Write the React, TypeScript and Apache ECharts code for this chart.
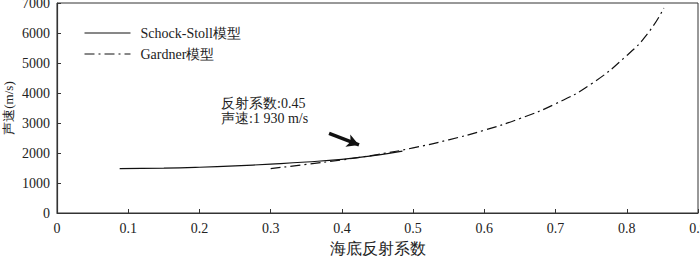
import React, { useEffect, useRef } from "react";
import * as echarts from "echarts";

const legendNames = ["Schock-Stoll模型", "Gardner模型"];
const ssX = [0.088, 0.15, 0.2, 0.25, 0.3, 0.35, 0.4, 0.45, 0.485];
const ssY = [1478, 1495, 1525, 1570, 1630, 1700, 1790, 1930, 2060];
const gX = [0.3, 0.35, 0.4, 0.45, 0.5, 0.55, 0.6, 0.65, 0.7, 0.75, 0.8, 0.83, 0.852];
const gY = [1480, 1620, 1770, 1950, 2170, 2440, 2760, 3150, 3640, 4300, 5250, 6000, 6830];
const arrowFrom = [0.382, 2657];
const arrowTo = [0.424, 2267];
const noteLines = ["反射系数:0.45", "声速:1 930 m/s"];
const xName = "海底反射系数";
const yName = "声速(m/s)";

const FONT = "Liberation Serif";

export default function App() {
  const ref = useRef<HTMLDivElement>(null);
  useEffect(() => {
    if (!ref.current) return;
    const chart = echarts.init(ref.current, null, { renderer: "svg" });
    const axisColor = "#333";
    chart.setOption({
      animation: false,
      backgroundColor: "#fff",
      textStyle: { fontFamily: FONT },
      grid: {
        left: 57,
        right: 2,
        top: 3,
        bottom: 48,
        outerBoundsMode: "none",
        containLabel: false,
        show: true,
        borderColor: axisColor,
        borderWidth: 1,
      },
      legend: {
        orient: "vertical",
        left: 79,
        top: 21,
        itemWidth: 46,
        itemHeight: 14,
        itemGap: 7,
        data: legendNames,
        itemStyle: { opacity: 0 },
        lineStyle: { width: 1 },
        textStyle: {
          fontFamily: FONT,
          fontSize: 14,
          color: "#222",
          padding: [0, 0, 0, 5],
        },
      },
      xAxis: {
        type: "value",
        min: 0,
        max: 0.9,
        interval: 0.1,
        name: xName,
        nameLocation: "middle",
        nameGap: 27,
        nameMoveOverlap: false,
        nameTextStyle: { fontFamily: FONT, fontSize: 16, color: "#222" },
        axisLine: { show: true, lineStyle: { color: axisColor, width: 1.2 } },
        axisTick: { show: true, inside: true, length: 4, lineStyle: { color: axisColor } },
        axisLabel: {
          margin: 8,
          fontFamily: FONT,
          fontSize: 14,
          color: "#222",
          formatter: (v: number) => (Math.round(v * 10) / 10).toString(),
        },
        splitLine: { show: false },
      },
      yAxis: {
        type: "value",
        min: 0,
        max: 7000,
        interval: 1000,
        name: yName,
        nameLocation: "middle",
        nameGap: 42,
        nameMoveOverlap: false,
        nameTextStyle: { fontFamily: FONT, fontSize: 13, color: "#222" },
        axisLine: { show: true, lineStyle: { color: axisColor, width: 1.2 } },
        axisTick: { show: true, inside: true, length: 4, lineStyle: { color: axisColor } },
        axisLabel: {
          margin: 7,
          fontFamily: FONT,
          fontSize: 14,
          color: "#222",
          formatter: (v: number) => String(v),
        },
        splitLine: { show: false },
      },
      series: [
        {
          name: legendNames[0],
          type: "line",
          smooth: true,
          symbol: "none",
          data: ssX.map((x, i) => [x, ssY[i]]),
          lineStyle: { color: "#111", width: 1.2, type: "solid" },
          itemStyle: { color: "#111" },
          markLine: {
            silent: true,
            symbol: ["none", "arrow"],
            symbolSize: [10, 12],
            label: { show: false },
            lineStyle: { color: "#111", width: 3.5, type: "solid" },
            data: [[{ coord: arrowFrom }, { coord: arrowTo }]],
          },
        },
        {
          name: legendNames[1],
          type: "line",
          smooth: true,
          symbol: "none",
          data: gX.map((x, i) => [x, gY[i]]),
          lineStyle: { color: "#111", width: 1.2, type: [10, 4, 2, 4] },
          itemStyle: { color: "#111" },
        },
      ],
      graphic: [
        {
          type: "text",
          left: 221,
          top: 96,
          style: {
            text: noteLines.join("\n"),
            fontFamily: FONT,
            fontSize: 14,
            lineHeight: 15,
            fill: "#222",
          },
        },
      ],
    });
    return () => chart.dispose();
  }, []);
  return (
    <div
      ref={ref}
      style={{ position: "fixed", left: 0, top: 0, width: 700, height: 261 }}
    />
  );
}
